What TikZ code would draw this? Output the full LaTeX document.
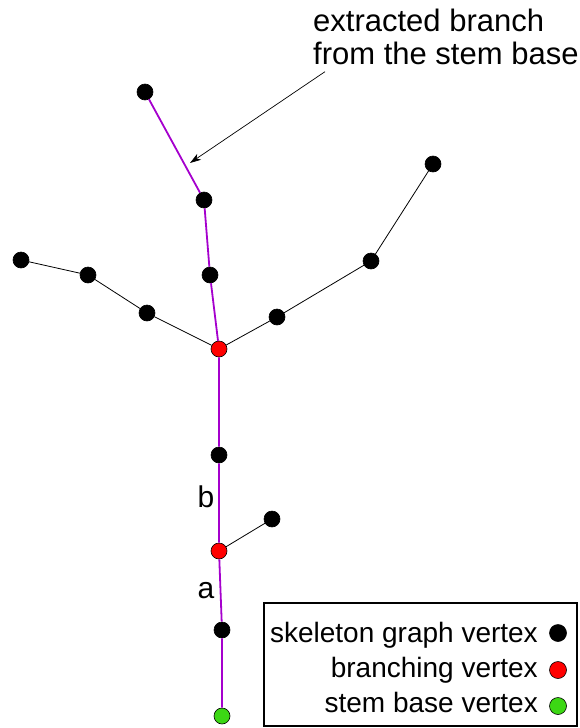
\documentclass[tikz,border=0pt]{standalone}
\usepackage{fontspec}
\setmainfont{Liberation Sans}
\usetikzlibrary{arrows.meta}

\definecolor{branchpurple}{RGB}{165,0,205}
\definecolor{basegreen}{RGB}{60,215,20}

\begin{document}
\begin{tikzpicture}[x=1pt, y=-1pt,
    vertex/.style={circle, draw, fill=black, inner sep=0pt, minimum size=16pt, line width=0.6pt},
    branching/.style={vertex, fill=red},
    stembase/.style={vertex, fill=basegreen},
    edge/.style={black, line width=0.8pt},
    branch/.style={branchpurple, line width=1.8pt},
    lbl/.style={font=\fontsize{28}{34}\selectfont, inner sep=0pt}]
    \useasboundingbox (0,0) rectangle (580,728);

    % Draw nodes
    \node[vertex] (1) at (145,92) {};
    \node[vertex] (2) at (204,200) {};
    \node[vertex] (3) at (210,275) {};
    \node[branching] (4) at (219,349) {};
    \node[vertex] (5) at (147,313) {};
    \node[vertex] (6) at (88,275) {};
    \node[vertex] (7) at (21,260) {};
    \node[vertex] (8) at (277,317) {};
    \node[vertex] (9) at (371,261) {};
    \node[vertex] (10) at (433,164) {};
    \node[vertex] (11) at (219,455) {};
    \node[branching] (12) at (219,551) {};
    \node[vertex] (13) at (272,519) {};
    \node[vertex] (14) at (222,630) {};
    \node[stembase] (15) at (222,716) {};

    % Draw connections
    \draw[branch] (1) -- (2) -- (3) -- (4) -- (11) -- (12) -- (14) -- (15);
    \draw[edge] (4) -- (5) -- (6) -- (7);
    \draw[edge] (4) -- (8) -- (9) -- (10);
    \draw[edge] (12) -- (13);

    % Labels
    \node[lbl, font=\fontsize{30}{34}\selectfont, anchor=base] (b) at (206,507) {b};
    \node[lbl, font=\fontsize{30}{34}\selectfont, anchor=base] (a) at (206,598) {a};
    \node[lbl, font=\fontsize{31}{32.5}\selectfont, align=left, anchor=north west] (note) at (313,9)
        {extracted branch\\from the stem base};
    \coordinate (tip) at (190,163);
    \draw[-{Stealth[length=11pt, width=7pt, inset=3pt]}, line width=0.7pt]
        ([xshift=12pt, yshift=-7pt]note.south west) -- (tip);

    % Legend
    \draw[line width=1.3pt] (264,603) rectangle (577,726);
    \node[lbl, anchor=base east] (l1) at (538,642) {skeleton graph vertex};
    \node[lbl, anchor=base east] (l2) at (538,677) {branching vertex};
    \node[lbl, anchor=base east] (l3) at (538,712) {stem base vertex};
    \node[vertex, minimum size=17pt] (k1) at (558,633) {};
    \node[branching, minimum size=17pt] (k2) at (558,670) {};
    \node[stembase, minimum size=17pt] (k3) at (558,706) {};
\end{tikzpicture}
\end{document}
